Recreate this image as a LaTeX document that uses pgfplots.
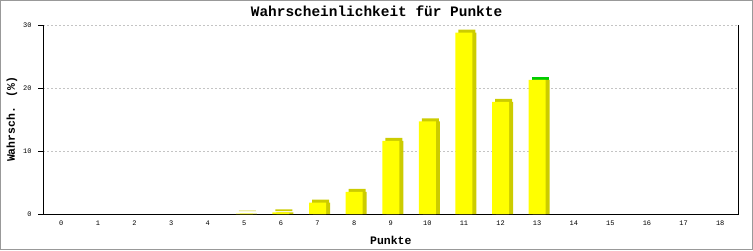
\documentclass[border=0pt]{standalone}
\usepackage{pgfplots}
\pgfplotsset{compat=1.18}
\usepackage{fontspec}
\setmainfont{Liberation Mono}
\definecolor{barfront}{HTML}{FFFF00}
\definecolor{barside}{HTML}{CCCC00}
\definecolor{bartop}{HTML}{00CC00}
\definecolor{gridgray}{HTML}{C4C4C4}
\definecolor{framegray}{HTML}{999999}
\pgfplotstableread{
x y
5 0.05
6 0.25
7 1.8
8 3.5
9 11.6
10 14.7
11 28.8
12 17.8
13 21.3
}\bardata
\pgfplotstableread{
x y
5 0.05
6 0.25
7 1.8
8 3.5
9 11.6
10 14.7
11 28.8
12 17.8
}\topdark
\pgfplotstableread{
x y
13 21.3
}\topgreen
\begin{document}
\begin{tikzpicture}[x=1bp,y=1bp]
\draw[framegray, line width=1bp] (0.5,0.5) rectangle (752.5,249.5);
\begin{axis}[
  at={(43bp,36bp)}, anchor=south west,
  scale only axis,
  width=695.5bp, height=189bp,
  xmin=-0.5, xmax=18.5, ymin=0, ymax=30,
  xtick={0,...,18}, ytick={0,10,20,30},
  axis x line*=bottom,
  axis y line*=left,
  axis line style={black, line width=0.8bp},
  ymajorgrids,
  grid style={gridgray, dash pattern=on 1.5bp off 2.5bp, line width=0.8bp},
  xtick style={draw=none},
  ytick style={black, line width=0.8bp},
  tick align=outside,
  major tick length=5bp,
  /pgf/number format/assume math mode=true,
  ticklabel style={font=\fontsize{7}{8}\selectfont},
  yticklabel style={xshift=-3bp},
  xticklabel style={yshift=2bp},
  xlabel={\textbf{Punkte}},
  ylabel={\textbf{Wahrsch. (\%)}},
  label style={font=\fontsize{11.5}{13}\selectfont},
  xlabel style={at={(axis description cs:0.5,0)}, anchor=center, yshift=-26bp},
  ylabel style={at={(axis description cs:0,0.5)}, anchor=center, yshift=31bp},
  title={\textbf{Wahrscheinlichkeit für Punkte}},
  title style={font=\fontsize{14.5}{16}\selectfont, at={(axis description cs:0.4796,1)}, anchor=center, yshift=8bp},
  clip=false,
]
\addplot[ybar, bar width=17bp, bar shift=3bp, yshift=3bp, fill=barside, draw=none] table[x=x,y=y] {\topdark};
\addplot[ybar, bar width=17bp, bar shift=3bp, yshift=3bp, fill=bartop, draw=none] table[x=x,y=y] {\topgreen};
\addplot[ybar, bar width=17bp, bar shift=4bp, fill=barside, draw=none] table[x=x,y=y] {\bardata};
\addplot[ybar, bar width=17bp, bar shift=0bp, fill=barfront, draw=none] table[x=x,y=y] {\bardata};
\draw[black, line width=0.8bp] (rel axis cs:1,0) -- (rel axis cs:1,1);
\end{axis}
\end{tikzpicture}
\end{document}
